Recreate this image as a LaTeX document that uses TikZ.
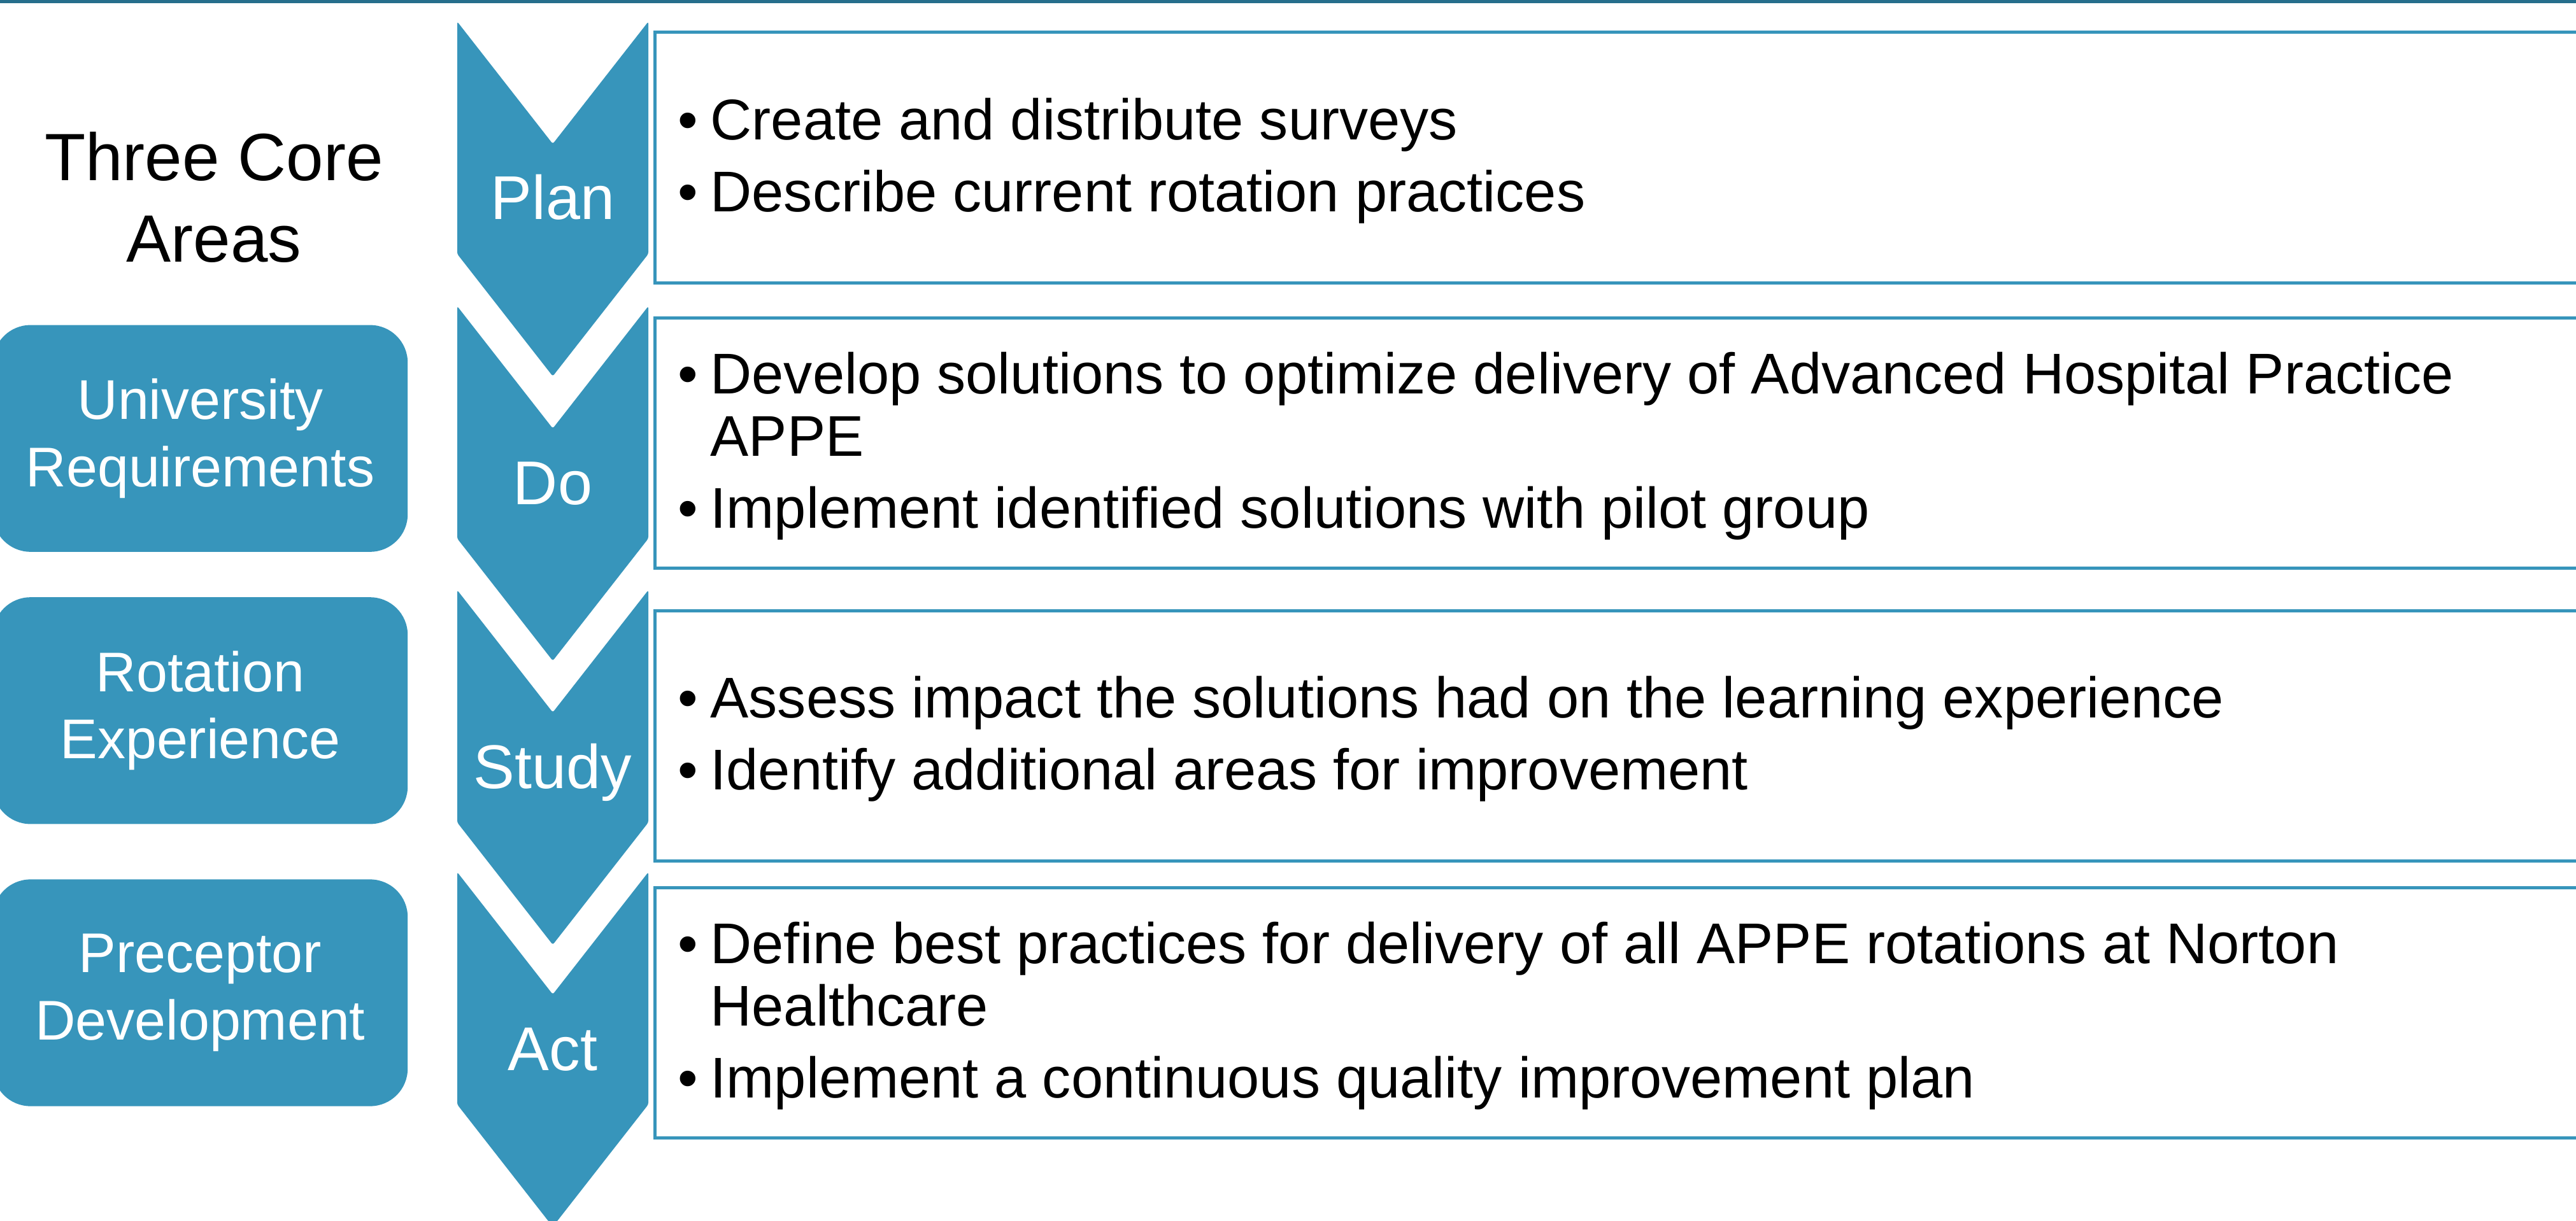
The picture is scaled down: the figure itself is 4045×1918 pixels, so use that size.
\documentclass[tikz,border=0pt]{standalone}
\usepackage{fontspec}
\setmainfont{Liberation Sans}

\definecolor{pdsa}{RGB}{55,149,187}
\definecolor{pdsadark}{RGB}{38,110,140}

\tikzset{
  chevron/.style={fill=pdsa, rounded corners=0.03cm},
  stepbox/.style={draw=pdsa, line width=0.05cm, fill=white},
  stagelabel/.style={text=white, inner sep=0pt, text height=19.9pt, text depth=0pt,
    font=\fontsize{27.6}{33}\selectfont},
  itemtext/.style={anchor=west, align=left, inner sep=0pt,
    font=\fontsize{25.65}{27.9}\selectfont},
  corebox/.style={fill=pdsa, rounded corners=0.59cm, minimum width=6.51cm,
    minimum height=3.56cm, inner sep=0pt, text=white, align=center,
    font=\fontsize{25}{30.1}\selectfont},
}
\newcommand{\bul}{\llap{\makebox[0.7cm][c]{\textbullet}}}

\begin{document}
\begin{tikzpicture}[x=0.01cm, y=-0.01cm]
\useasboundingbox (0,0) rectangle (4045,1918);
\clip (0,0) rectangle (4045,1918);

%top rule
\fill[pdsadark] (0,0) rectangle (4045,5);

%chevrons
\fill[chevron] (718,34) -- (868,226) -- (1018,34) -- (1018,399) -- (868,591) -- (718,399) -- cycle;
\fill[chevron] (718,481) -- (868,673) -- (1018,481) -- (1018,846) -- (868,1038) -- (718,846) -- cycle;
\fill[chevron] (718,927) -- (868,1119) -- (1018,927) -- (1018,1292) -- (868,1484) -- (718,1292) -- cycle;
\fill[chevron] (718,1370) -- (868,1562) -- (1018,1370) -- (1018,1735) -- (868,1927) -- (718,1735) -- cycle;

\node[stagelabel] (plan) at (868,310) {Plan};
\node[stagelabel] (do) at (868,757) {Do};
\node[stagelabel] (study) at (868,1203) {Study};
\node[stagelabel] (act) at (868,1646) {Act};

%step boxes
\draw[stepbox] (1028,50.8) rectangle (4100,444.2);
\draw[stepbox] (1028,499) rectangle (4100,892.5);
\draw[stepbox] (1028,959.5) rectangle (4100,1352.5);
\draw[stepbox] (1028,1394) rectangle (4100,1787);

%text
\node[itemtext] (plan-items) at (1115,252.5)
  {\bul Create and distribute surveys\\[0.15cm]
   \bul Describe current rotation practices};
\node[itemtext] (do-items) at (1115,700.75)
  {\bul Develop solutions to optimize delivery of Advanced Hospital Practice\\
   APPE\\[0.15cm]
   \bul Implement identified solutions with pilot group};
\node[itemtext] (study-items) at (1115,1161)
  {\bul Assess impact the solutions had on the learning experience\\[0.15cm]
   \bul Identify additional areas for improvement};
\node[itemtext] (act-items) at (1115,1595.5)
  {\bul Define best practices for delivery of all APPE rotations at Norton\\
   Healthcare\\[0.15cm]
   \bul Implement a continuous quality improvement plan};

%core areas
\node[align=center, inner sep=0pt, font=\fontsize{29.9}{36.4}\selectfont] (core) at (336,309.5)
  {Three Core\\Areas};
\node[corebox] (university) at (314.5,688.7) {University\\Requirements};
\node[corebox] (rotation) at (314.5,1116.3) {Rotation\\Experience};
\node[corebox] (preceptor) at (314.5,1559.5) {Preceptor\\Development};
\end{tikzpicture}
\end{document}
